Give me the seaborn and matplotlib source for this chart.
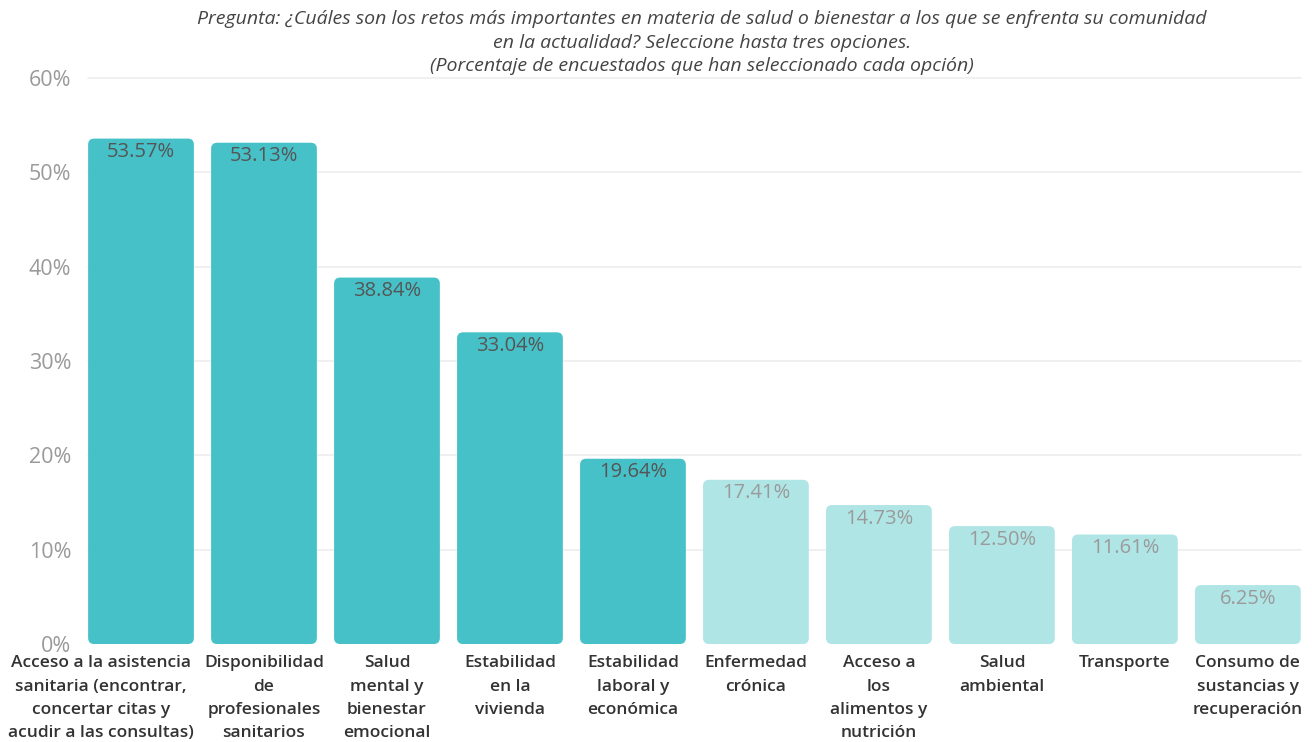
import matplotlib
matplotlib.use("Agg")
import matplotlib.pyplot as plt
import matplotlib.transforms as mtransforms
import seaborn as sns
import pandas as pd
from matplotlib.patches import FancyBboxPatch

categories = [
    "Acceso a la asistencia\nsanitaria (encontrar,\nconcertar citas y\nacudir a las consultas)",
    "Disponibilidad\nde\nprofesionales\nsanitarios",
    "Salud\nmental y\nbienestar\nemocional",
    "Estabilidad\nen la\nvivienda",
    "Estabilidad\nlaboral y\neconómica",
    "Enfermedad\ncrónica",
    "Acceso a\nlos\nalimentos y\nnutrición",
    "Salud\nambiental",
    "Transporte",
    "Consumo de\nsustancias y\nrecuperación",
]
values = [53.57, 53.13, 38.84, 33.04, 19.64, 17.41, 14.73, 12.50, 11.61, 6.25]
highlight = [True, True, True, True, True, False, False, False, False, False]
y_ticks = [0, 10, 20, 30, 40, 50, 60]

dark, light = "#47C1C8", "#B0E5E6"
df = pd.DataFrame({"cat": categories, "val": values,
                   "grp": ["top" if h else "rest" for h in highlight]})

sns.set_theme(style="white")
plt.rcParams["font.family"] = ["Open Sans", "DejaVu Sans"]

fig = plt.figure(figsize=(13.12, 7.42), dpi=100)
ax = fig.add_axes([0.0606, 0.132, 0.9374, 0.763])

sns.barplot(data=df, x="cat", y="val", hue="grp", dodge=False, width=0.86,
            palette={"top": dark, "rest": light}, legend=False, ax=ax,
            saturation=1)

# swap plain rectangles for rounded ones
bars = [p for p in ax.patches]
for p in bars:
    x, y, w, h = p.get_x(), p.get_y(), p.get_width(), p.get_height()
    fc = p.get_facecolor()
    p.remove()
    if h <= 0:
        continue
    ax.add_patch(FancyBboxPatch((x, y), w, h,
                                boxstyle="round,pad=0,rounding_size=0.05",
                                mutation_aspect=12.8, facecolor=fc,
                                edgecolor="none", zorder=2))

for i, (v, h) in enumerate(zip(values, highlight)):
    ax.text(i, v - 1.45, f"{v:.2f}%", ha="center", va="center",
            fontsize=14.5, color="#555555" if h else "#9a9a9a", zorder=3)

ax.set_xlim(-0.5, 9.5)
ax.set_ylim(0, 60)
ax.set_yticks(y_ticks)
ax.set_yticklabels([f"{t}%" for t in y_ticks], fontsize=15.5, color="#9a9a9a")
ax.tick_params(axis="y", length=0, pad=6)
for t in y_ticks[1:]:
    ax.axhline(t, xmin=0.007, xmax=0.993, color="#eeeeee", lw=1.2,
               zorder=0, clip_on=False)

ax.set_xticks(range(len(categories)))
ax.set_xticklabels(categories, fontsize=12.5, color="#333333",
                   fontweight="semibold", linespacing=1.62, va="top")
ax.tick_params(axis="x", length=0, pad=8)
# the widest label sits a little to the left so it stays clear of its neighbour
first = ax.get_xticklabels()[0]
first.set_transform(first.get_transform() +
                    mtransforms.ScaledTranslation(-0.40, 0, fig.dpi_scale_trans))
ax.set_xlabel("")
ax.set_ylabel("")
for s in ax.spines.values():
    s.set_visible(False)

fig.text(0.535, 0.987,
         "Pregunta: ¿Cuáles son los retos más importantes en materia de salud o bienestar a los que se enfrenta su comunidad\n"
         "en la actualidad? Seleccione hasta tres opciones.\n"
         "(Porcentaje de encuestados que han seleccionado cada opción)",
         ha="center", va="top", fontsize=14, style="italic",
         color="#444444", linespacing=1.42)

fig.savefig("out.png", dpi=100, facecolor="white")
